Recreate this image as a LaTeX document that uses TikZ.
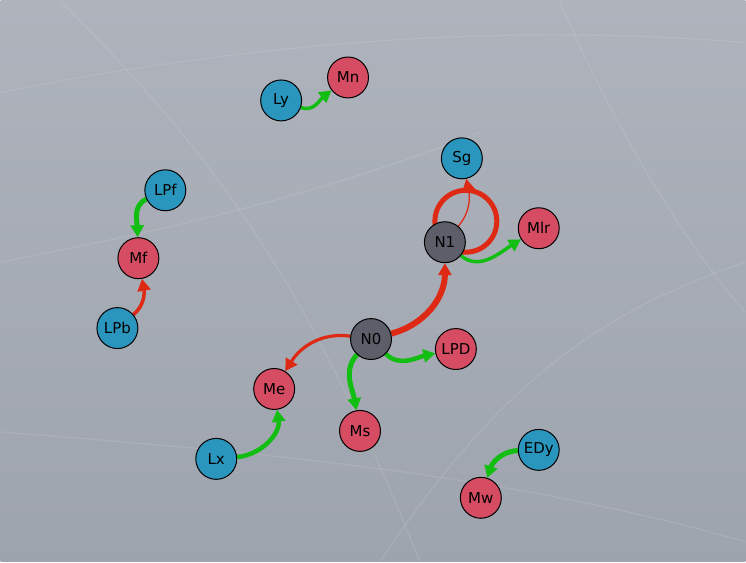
\documentclass[tikz,border=0pt]{standalone}
\usepackage{fontspec}
\setmainfont{DejaVu Sans}
\usetikzlibrary{arrows.meta,calc}
\pgfdeclarelayer{bg}
\pgfdeclarelayer{edges}
\pgfsetlayers{bg,edges,main}
\definecolor{bgtop}{RGB}{174,179,188}
\definecolor{bgbot}{RGB}{158,164,174}
\definecolor{nblue}{RGB}{42,150,190}
\definecolor{nred}{RGB}{214,76,98}
\definecolor{ngray}{RGB}{92,95,106}
\definecolor{egreen}{RGB}{18,190,18}
\definecolor{ered}{RGB}{222,42,20}
\tikzset{
  vtx/.style={circle,draw=black,line width=1pt,minimum size=41pt,inner sep=0pt,
    font=\fontsize{15}{17}\selectfont},
  vb/.style={vtx,fill=nblue},
  vr/.style={vtx,fill=nred},
  vg/.style={vtx,fill=ngray},
  tipa/.style={-{Triangle[length=12pt,width=13pt]}},
  ge/.style={tipa,draw=egreen,line width=#1},
  re/.style={tipa,draw=ered,line width=#1},
  streak/.style={white,opacity=0.10,line width=1.2pt}
}
\begin{document}
\begin{tikzpicture}[x=1pt,y=1pt]
\begin{pgfonlayer}{bg}
\shade[top color=bgtop,bottom color=bgbot] (0,0) rectangle (746,562);
\draw[streak] (0,470) .. controls (250,520) and (500,540) .. (746,520);
\draw[streak] (0,130) .. controls (250,110) and (500,90) .. (746,20);
\draw[streak] (60,562) .. controls (200,420) and (300,300) .. (420,0);
\draw[streak] (746,300) .. controls (600,250) and (500,180) .. (380,0);
\draw[streak] (0,300) .. controls (150,330) and (300,360) .. (480,430);
\draw[streak] (560,562) .. controls (620,420) and (700,300) .. (746,250);
\end{pgfonlayer}
\useasboundingbox (0,0) rectangle (746,562);

\node[vb] (Ly)  at (281,462) {Ly};
\node[vr] (Mn)  at (348,485) {Mn};
\node[vb] (Sg)  at (462,404) {Sg};
\node[vg] (N1)  at (445,320) {N1};
\node[vr] (Mlr) at (539,334) {Mlr};
\node[vb] (LPf) at (165,372) {LPf};
\node[vr] (Mf)  at (138,304) {Mf};
\node[vb] (LPb) at (117,234) {LPb};
\node[vg] (N0)  at (371,223) {N0};
\node[vr] (LPD) at (456,213) {LPD};
\node[vr] (Me)  at (274,173) {Me};
\node[vr] (Ms)  at (360,131) {Ms};
\node[vb] (Lx)  at (216,103) {Lx};
\node[vb] (EDy) at (539,112) {EDy};
\node[vr] (Mw)  at (481,64) {Mw};

\begin{pgfonlayer}{edges}
\draw[re=6pt] (N0) to[out=15,in=-90] (N1);
\draw[draw=ered,line width=5pt] ($(N1)+(21,21)$) circle (31);
\draw[re=1.3pt] (N1) to[out=50,in=-78] (Sg);
\draw[ge=3.5pt] (N1) to[out=-40,in=212] (Mlr);
\draw[re=3.2pt] (N0) to[out=172,in=58] (Me);
\draw[ge=5pt] (N0) to[out=228,in=100] (Ms);
\draw[ge=4.5pt] (N0) to[out=-45,in=192] (LPD);
\draw[ge=5pt] (LPf) to[out=205,in=92] (Mf);
\draw[re=3.5pt] (LPb) to[out=40,in=-80] (Mf);
\draw[ge=4.5pt] (Lx) to[out=5,in=-82] (Me);
\draw[ge=3.5pt] (Ly) to[out=-20,in=218] (Mn);
\draw[ge=5pt] (EDy) to[out=182,in=72] (Mw);
\end{pgfonlayer}
\end{tikzpicture}
\end{document}
